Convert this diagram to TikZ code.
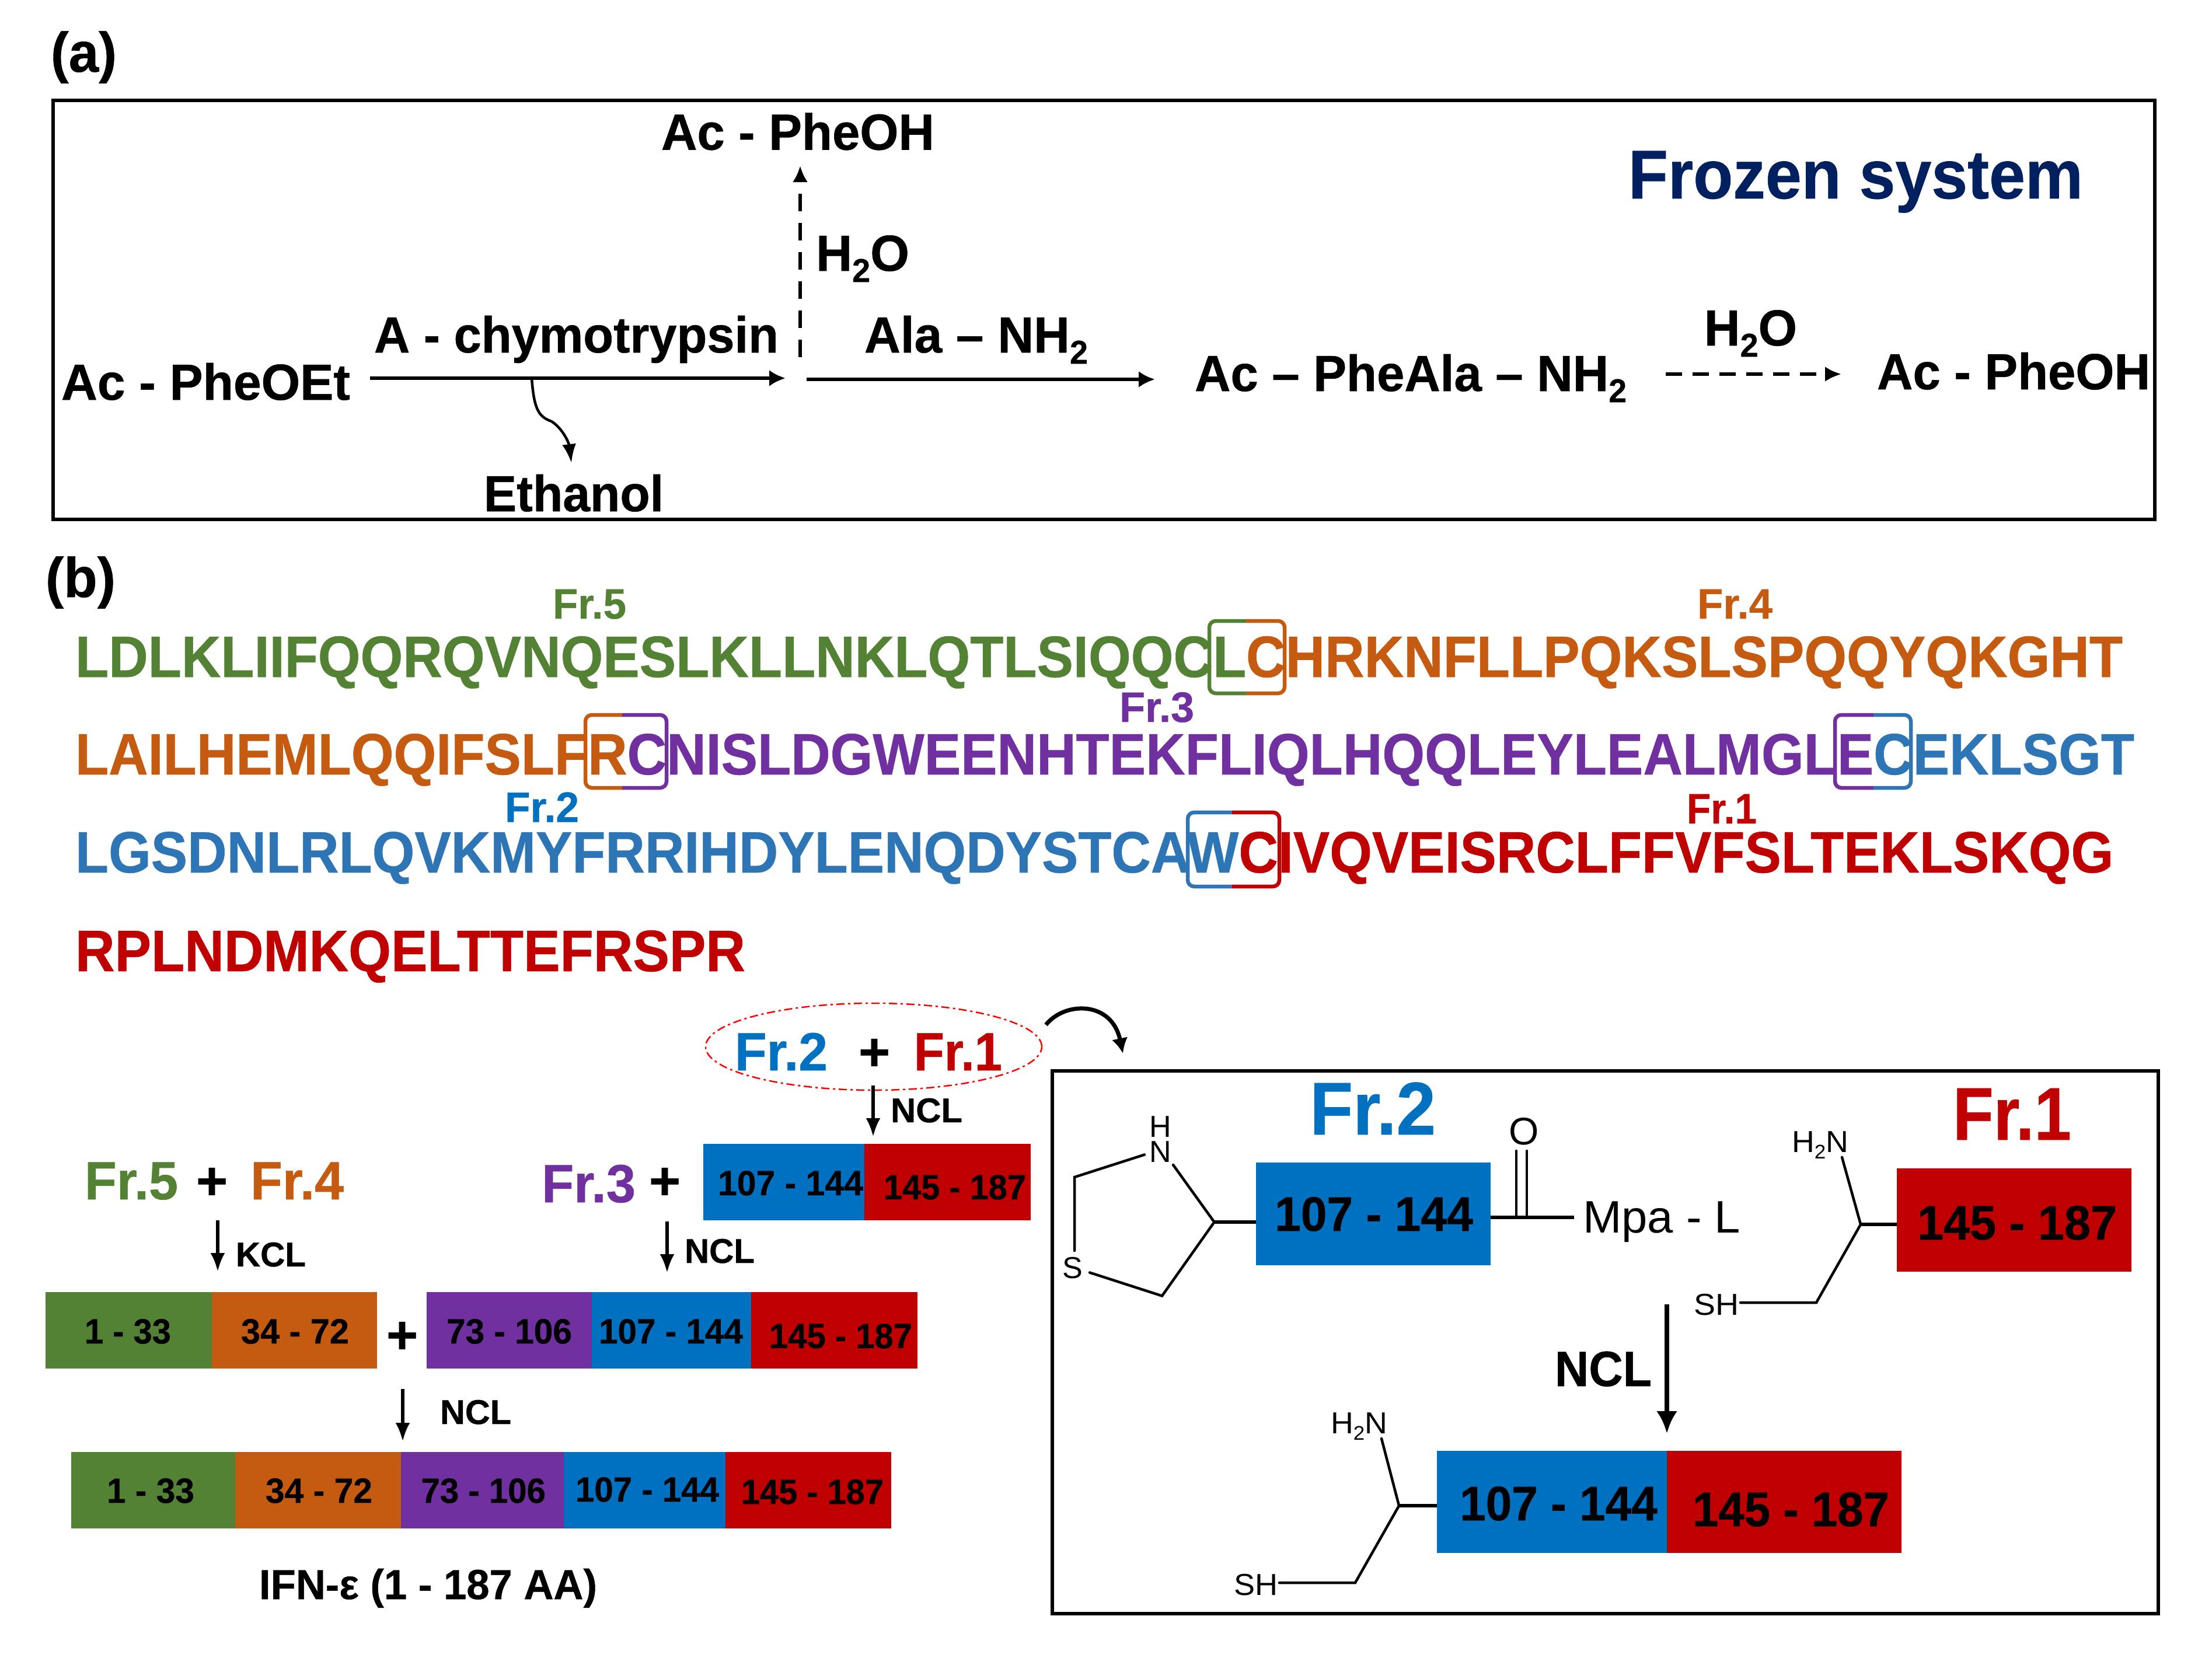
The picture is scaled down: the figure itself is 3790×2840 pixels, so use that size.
\documentclass[tikz,border=0pt]{standalone}
\usepackage{fontspec}
\setmainfont[BoldFeatures={FakeBold=0.6}]{Liberation Sans}
\usepackage{graphicx}
\usetikzlibrary{arrows.meta,shapes.geometric}
\definecolor{cgr}{HTML}{548235}
\definecolor{cor}{HTML}{C55A11}
\definecolor{cpu}{HTML}{7030A0}
\definecolor{cbl}{HTML}{0070C0}
\definecolor{cbs}{HTML}{2E75B6}
\definecolor{cre}{HTML}{C00000}
\definecolor{cnv}{HTML}{002060}
\newcommand\subs[1]{\raisebox{-.22em}{\scalebox{.65}{#1}}}
% [options]{name}{x}{baseline y}{width}{font size}{text}
\newcommand\lbl[7][]{\node[lbl,#1,font={\fontsize{#6pt}{#6pt}\selectfont\bfseries}] (#2) at ({#3-4},{#4+2}) {\resizebox{\dimexpr #5pt+8pt\relax}{\height}{#7}};}
\newcommand\lblr[7][]{\node[lbl,#1,font={\fontsize{#6pt}{#6pt}\selectfont}] (#2) at ({#3-3},{#4+2}) {\resizebox{\dimexpr #5pt+6pt\relax}{\height}{#7}};}
% {name}{x1}{y1}{x2}{y2}{colour}
\newcommand\seg[6]{\pgfmathsetmacro\segw{#4-#2}\pgfmathsetmacro\segh{#5-#3}\node[segbox,fill=#6,minimum width=\segw pt,minimum height=\segh pt] (#1) at ({(#2+#4)/2},{(#3+#5)/2}) {};}
% {x1}{y1}{xmid}{x2}{y2}{colour}{colour}
\newcommand\brk[7]{\draw[brk,#6] (#3,#2) -- (#1,#2) -- (#1,#5) -- (#3,#5);\draw[brk,#7] (#3,#2) -- (#4,#2) -- (#4,#5) -- (#3,#5);}
\tikzset{
 lbl/.style={anchor=base west,inner sep=0pt,outer sep=0pt,text=black},
 segbox/.style={draw=none,inner sep=0pt,outer sep=0pt},
 panel/.style={draw=black,line width=5.5pt},
 brk/.style={line width=6.5pt,rounded corners=11pt},
 arr/.style={line width=6.5pt,-{Latex[length=28pt,width=28pt]}},
 arrd/.style={line width=5.5pt,-{Latex[length=28pt,width=26pt]}},
 arrthin/.style={line width=5.5pt,-{Latex[length=32pt,width=25pt]}},
 arrbig/.style={line width=8.5pt,-{Latex[length=38pt,width=36pt]}},
 bond/.style={line width=4.5pt,line cap=round},
 bondt/.style={line width=6pt},
}
\begin{document}
\begin{tikzpicture}[x=1pt,y=-1pt]
\useasboundingbox (0,0) rectangle (3790,2840);
% ---------- panel a
\lbl{la}{91}{121}{105}{96}{(a)}
\node[panel,inner sep=0pt,minimum width=3601pt,minimum height=718pt] (pa) at (1891.5,531) {};
\lbl{pheohA}{1137}{254.5}{460}{87}{Ac - PheOH}
\lbl{hoA}{1402}{462}{152}{87}{H\subs{2}O}
\lbl{chymo}{645}{602}{685}{87}{A - chymotrypsin}
\lbl{alanh}{1485}{602}{375}{87}{Ala – NH\subs{2}}
\lbl{pheoet}{109}{683}{487}{87}{Ac - PheOEt}
\lbl{ethanol}{833}{874}{300}{87}{Ethanol}
\lbl[text=cnv]{frozen}{2794}{338}{771}{118}{Frozen system}
\lbl{phealanh}{2051}{668}{732}{87}{Ac – PheAla – NH\subs{2}}
\lbl{hoB}{2924}{590}{151}{87}{H\subs{2}O}
\lbl{pheohB}{3220}{665}{460}{87}{Ac - PheOH}
\coordinate (a1s) at (634,648);
\coordinate (a1e) at (1346,648);
\coordinate (a2s) at (1382,650);
\coordinate (a2e) at (1979,650);
\coordinate (a3s) at (1371,612);
\coordinate (a3e) at (1371,284);
\coordinate (a4s) at (2854,641);
\coordinate (a4e) at (3155,641);
\coordinate (a5s) at (911,648);
\coordinate (a5m) at (945,722);
\coordinate (a5e) at (979,793);
\draw[arr] (a1s) -- (a1e);
\draw[arr] (a2s) -- (a2e);
\draw[arrd,dash pattern=on 30pt off 20pt] (a3s) -- (a3e);
\draw[arrd,dash pattern=on 28pt off 18pt] (a4s) -- (a4e);
\draw[line width=4.5pt] (a5s) .. controls (915,700) and (922,714) .. (a5m);
\draw[line width=4.5pt,-{Latex[length=32pt,width=24pt]}] (a5m) .. controls (965,735) and (975,760) .. (a5e);
% ---------- panel b: sequence
\lbl{lb}{82}{1021}{112}{96}{(b)}
\lbl[text=cgr]{fvA}{951}{1058}{118}{73}{Fr.5}
\lbl[text=cor]{ffA}{2912}{1058}{121}{73}{Fr.4}
\lbl[text=cpu]{fthA}{1922}{1235}{120}{73}{Fr.3}
\lbl[text=cbl]{ftwA}{869}{1406.5}{119}{73}{Fr.2}
\lbl[text=cre]{foA}{2894}{1409}{112}{73}{Fr.1}
\lbl{seqA}{133}{1158}{3500}{100}{{\color{cgr}LDLKLIIFQQRQVNQESLKLLNKLQTLSIQQCL}{\color{cor}CHRKNFLLPQKSLSPQQYQKGHT}}
\lbl{seqB}{133}{1325}{3520}{100}{{\color{cor}LAILHEMLQQIFSLFR}{\color{cpu}CNISLDGWEENHTEKFLIQLHQQLEYLEALMGLE}{\color{cbs}CEKLSGT}}
\lbl{seqC}{133}{1493}{3484}{100}{{\color{cbs}LGSDNLRLQVKMYFRRIHDYLENQDYSTCAW}{\color{cre}CIVQVEISRCLFFVFSLTEKLSKQG}}
\lbl{seqD}{133}{1662}{1140}{100}{{\color{cre}RPLNDMKQELTTEFRSPR}}
\brk{2072}{1064}{2135}{2201}{1188}{cgr}{cor}
\brk{1003}{1225}{1066}{1142}{1350}{cor}{cpu}
\brk{3144}{1225}{3210}{3274}{1350}{cpu}{cbs}
\brk{2035}{1392}{2111}{2192}{1519}{cbs}{cre}
% ---------- assembly, top
\node[draw=red,ellipse,line width=2.5pt,dash pattern=on 14pt off 6pt on 4pt off 6pt,inner sep=0pt,minimum width=576pt,minimum height=149pt] (ell) at (1497,1793.5) {};
\lbl[text=cbl]{ftwB}{1263}{1832}{151}{92}{Fr.2}
\lbl{plA}{1475}{1832}{46}{92}{+}
\lbl[text=cre]{foB}{1570}{1832}{143}{92}{Fr.1}
\coordinate (n1s) at (1496,1860);
\coordinate (n1e) at (1496,1948);
\draw[arrthin] (n1s) -- (n1e);
\lbl{nclA}{1530}{1921}{115}{59}{NCL}
\seg{rA}{1205}{1960}{1481}{2091}{cbl}
\seg{rB}{1481}{1960}{1766}{2091}{cre}
\lbl{tA}{1234}{2046}{241}{60}{107 - 144}
\lbl{tB}{1518}{2053}{236}{60}{145 - 187}
\lbl[text=cgr]{fvB}{149}{2053}{152}{92}{Fr.5}
\lbl{plB}{340}{2053}{46}{92}{+}
\lbl[text=cor]{ffB}{433}{2053}{152}{92}{Fr.4}
\lbl[text=cpu]{fthB}{932}{2058}{153}{92}{Fr.3}
\lbl{plC}{1116}{2053}{46}{92}{+}
\coordinate (k1s) at (373,2091);
\coordinate (k1e) at (373,2179);
\draw[arrthin] (k1s) -- (k1e);
\lbl{kcl}{408}{2168}{112}{59}{KCL}
\coordinate (n2s) at (1143,2093);
\coordinate (n2e) at (1143,2181);
\draw[arrthin] (n2s) -- (n2e);
\lbl{nclB}{1177}{2162}{112}{59}{NCL}
% ---------- row 2
\seg{rCa}{78}{2214}{363}{2345}{cgr}
\seg{rCb}{363}{2214}{646}{2345}{cor}
\seg{rCc}{731}{2214}{1014}{2345}{cpu}
\seg{rCd}{1014}{2214}{1287}{2345}{cbl}
\seg{rCe}{1287}{2214}{1572}{2345}{cre}
\lbl{plD}{666}{2317}{46}{92}{+}
\lbl{tCa}{149}{2300}{140}{60}{1 - 33}
\lbl{tCb}{417}{2300}{177}{60}{34 - 72}
\lbl{tCc}{769}{2300}{207}{60}{73 - 106}
\lbl{tCd}{1030}{2300}{239}{60}{107 - 144}
\lbl{tCe}{1322}{2308}{237}{60}{145 - 187}
\coordinate (n3s) at (690,2380);
\coordinate (n3e) at (690,2470);
\draw[arrthin] (n3s) -- (n3e);
\lbl{nclC}{758}{2438}{114}{59}{NCL}
% ---------- row 3
\seg{rDa}{122}{2488}{403}{2619}{cgr}
\seg{rDb}{403}{2488}{686.5}{2619}{cor}
\seg{rDc}{686.5}{2488}{965.5}{2619}{cpu}
\seg{rDd}{965.5}{2488}{1243}{2619}{cbl}
\seg{rDe}{1243}{2488}{1527}{2619}{cre}
\lbl{tDa}{187}{2573}{142}{60}{1 - 33}
\lbl{tDb}{459}{2573}{175}{60}{34 - 72}
\lbl{tDc}{725.5}{2573}{205.5}{60}{73 - 106}
\lbl{tDd}{990}{2571}{238}{60}{107 - 144}
\lbl{tDe}{1274}{2575}{236}{60}{145 - 187}
\lbl{ifn}{448}{2738}{571}{72}{IFN-ε (1 - 187 AA)}
% ---------- inset
\coordinate (cvs) at (1792,1756);
\coordinate (cve) at (1924,1805);
\draw[line width=7pt,-{Latex[length=26pt,width=28pt]}] (cvs) .. controls (1825,1715) and (1905,1715) .. (cve);
\node[panel,inner sep=0pt,minimum width=1895pt,minimum height=930pt] (pc) at (2750.5,2300) {};
\lbl[text=cbl]{ftwC}{2248}{1942}{208}{128}{Fr.2}
\lbl[text=cre]{foC}{3350}{1951}{195}{128}{Fr.1}
\seg{rE}{2152}{1992}{2554}{2168}{cbl}
\seg{rF}{3250}{2002}{3652}{2179}{cre}
\lbl{tE}{2188}{2107}{332}{83}{107 - 144}
\lbl{tF}{3289}{2122}{334}{83}{145 - 187}
\lblr{mpa}{2715}{2110}{264}{78}{Mpa - L}
\node[align=center,font=\fontsize{52pt}{43pt}\selectfont,inner sep=0pt] (hN) at (1988,1952) {H\\N};
\node[font=\fontsize{52pt}{52pt}\selectfont,inner sep=0pt] (sS) at (1838,2173) {S};
\node[font=\fontsize{66pt}{66pt}\selectfont,inner sep=0pt] (oO) at (2611,1938.5) {O};
\coordinate (rg1) at (2010,1996);
\coordinate (rg2) at (2080.5,2094);
\coordinate (rg3) at (1991,2220.5);
\coordinate (rg4) at (1867,2180.5);
\coordinate (rg5) at (1841,2143);
\coordinate (rg6) at (1841,2017);
\coordinate (rg7) at (1961,1978.5);
\draw[bond] (rg1) -- (rg2) -- (rg3) -- (rg4);
\draw[bond] (rg5) -- (rg6) -- (rg7);
\draw[bondt] (rg2) -- (rE.west |- rg2);
\coordinate (dbA) at (2598,1972);
\coordinate (dbAe) at (2598,2086);
\coordinate (dbB) at (2616,1972);
\coordinate (dbBe) at (2616,2086);
\draw[bond] (dbA) -- (dbAe);
\draw[bond] (dbB) -- (dbBe);
\coordinate (mpb) at (2697,2086);
\draw[bondt] (rE.east |- mpb) -- (mpb);
\lblr{hnA}{3073}{1972}{91}{52}{H\subs{2}N}
\coordinate (ca1) at (3156,1983);
\coordinate (ca2) at (3188,2098);
\coordinate (ca3) at (3112,2232);
\coordinate (ca4) at (2982,2232);
\draw[bond] (ca1) -- (ca2) -- (ca3) -- (ca4);
\draw[bondt] (ca2) -- (rF.west |- ca2);
\lblr{shA}{2905}{2251}{71}{52}{SH}
\coordinate (nbs) at (2856,2235);
\coordinate (nbe) at (2856,2456);
\draw[arrbig] (nbs) -- (nbe);
\lbl{nclD}{2668}{2373}{158}{85}{NCL}
\seg{rG}{2462}{2486}{2856}{2661}{cbl}
\seg{rH}{2856}{2486}{3258}{2661}{cre}
\lbl{tG}{2505}{2603}{331}{83}{107 - 144}
\lbl{tH}{2904}{2613}{329}{83}{145 - 187}
\lblr{hnB}{2283}{2454}{91}{52}{H\subs{2}N}
\coordinate (cb1) at (2367,2465);
\coordinate (cb2) at (2397,2580);
\coordinate (cb3) at (2322,2712);
\coordinate (cb4) at (2192,2712);
\draw[bond] (cb1) -- (cb2) -- (cb3) -- (cb4);
\draw[bondt] (cb2) -- (rG.west |- cb2);
\lblr{shB}{2117}{2731}{69}{52}{SH}
\end{tikzpicture}
\end{document}
